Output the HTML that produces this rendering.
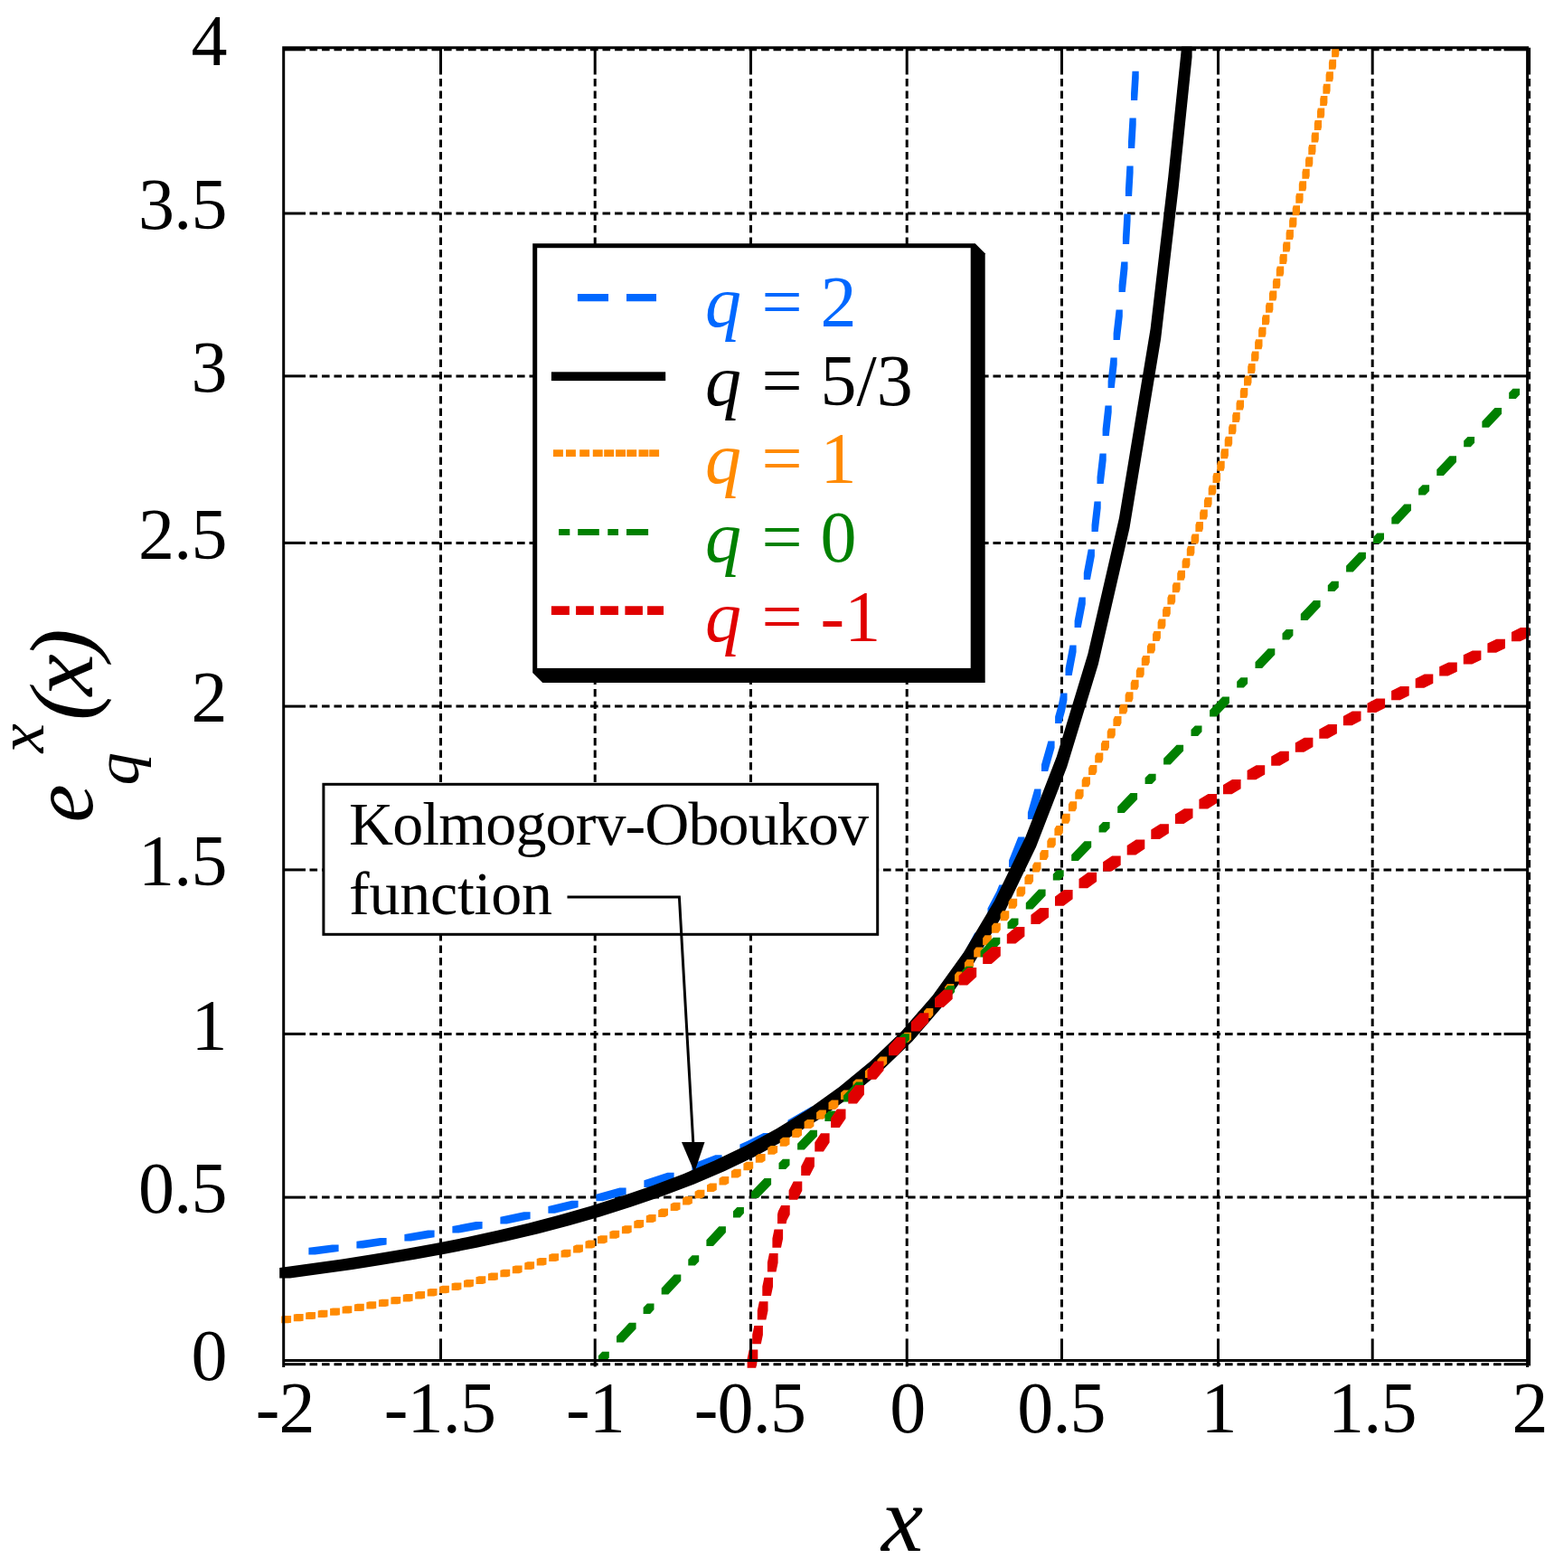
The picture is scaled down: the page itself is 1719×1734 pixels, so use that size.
<!DOCTYPE html>
<html lang="en">
<head>
<meta charset="utf-8">
<title>q-exponential functions</title>
<style>
html,body{margin:0;padding:0;background:#fff;}
body{width:1719px;height:1734px;overflow:hidden;}
svg{display:block;}
</style>
</head>
<body>
<svg width="1719" height="1734" viewBox="0 0 1719 1734">
<rect width="1719" height="1734" fill="#fff"/>
<g stroke="#000" stroke-width="3" fill="none" stroke-dasharray="8.6 4.9">
<line x1="487.5" y1="87" x2="487.5" y2="1477.4"/>
<line x1="658.2" y1="87" x2="658.2" y2="1477.4"/>
<line x1="830.5" y1="87" x2="830.5" y2="1477.4"/>
<line x1="1003.2" y1="87" x2="1003.2" y2="1477.4"/>
<line x1="1174.5" y1="87" x2="1174.5" y2="1477.4"/>
<line x1="1347.5" y1="87" x2="1347.5" y2="1477.4"/>
<line x1="1518.2" y1="87" x2="1518.2" y2="1477.4"/>
<line x1="1691.6" y1="87" x2="1691.6" y2="1477.4"/>
<line x1="342.5" y1="1508.7" x2="1660.6" y2="1508.7"/>
<line x1="342.5" y1="1324.1" x2="1660.6" y2="1324.1"/>
<line x1="342.5" y1="1143.4" x2="1660.6" y2="1143.4"/>
<line x1="342.5" y1="961.9" x2="1660.6" y2="961.9"/>
<line x1="342.5" y1="781.1" x2="1660.6" y2="781.1"/>
<line x1="342.5" y1="600.4" x2="1660.6" y2="600.4"/>
<line x1="342.5" y1="415.9" x2="1660.6" y2="415.9"/>
<line x1="342.5" y1="236" x2="1660.6" y2="236"/>
<line x1="342.5" y1="54.8" x2="1660.6" y2="54.8"/>
</g>
<clipPath id="cc"><rect x="300" y="40" width="1392.4" height="1480"/></clipPath>
<g clip-path="url(#cc)">
<path fill="#0068ff" d="M341.4 1387.4L348.6 1387.4L374.6 1384.1L374.6 1376.5L367.4 1376.5L341.4 1379.8ZM394.4 1380.4L401.6 1380.4L427.6 1376.6L427.6 1369L420.4 1369L394.4 1372.8ZM447.4 1372.5L454.6 1372.5L480.6 1368.2L480.6 1360.6L473.4 1360.6L447.4 1364.9ZM500.4 1363.5L507.6 1363.5L533.6 1358.7L533.6 1351.1L526.4 1351.1L500.4 1355.9ZM553.4 1353.4L560.6 1353.4L586.6 1347.9L586.6 1340.3L579.4 1340.3L553.4 1345.8ZM606.4 1341.7L613.6 1341.7L639.6 1335.3L639.6 1327.7L632.4 1327.7L606.4 1334.1ZM659.4 1328.3L666.6 1328.3L692.6 1321.1L692.6 1313.5L685.4 1313.5L659.4 1320.7ZM712.4 1312.9L719.6 1312.9L745.6 1304.4L745.6 1296.8L738.4 1296.8L712.4 1305.3ZM765.4 1294.9L772.6 1294.9L798.6 1284.8L798.6 1277.2L791.4 1277.2L765.4 1287.3ZM818.4 1273.1L825.6 1273.1L834.1 1269.4L851.6 1260.6L851.6 1253L844.4 1253L826.9 1261.8L818.4 1265.5ZM871.4 1246.4L878.6 1246.4L904.6 1231.4L904.6 1223.8L897.4 1223.8L871.4 1238.8ZM924.4 1213.2L931.6 1213.2L937.8 1209.1L957.6 1193.4L957.6 1185.8L950.4 1185.8L930.5 1201.5L924.4 1205.6ZM977.4 1170L984.6 1170L1006.9 1148.9L1010 1145.1L1010 1137.5L1002.8 1137.5L999.6 1141.3L977.4 1162.4ZM1025.8 1118.1L1033 1118.1L1041.1 1108.6L1052.3 1092.1L1052.3 1084.5L1045.1 1084.5L1033.9 1101L1025.8 1110.5ZM1063.4 1065.1L1070.6 1065.1L1075.3 1058.1L1085.4 1039.1L1085.4 1031.5L1078.2 1031.5L1068.2 1050.5L1063.4 1057.5ZM1092.5 1012.1L1099.7 1012.1L1109.6 993.3L1112.5 986.1L1112.5 978.5L1105.3 978.5L1102.4 985.7L1092.5 1004.5ZM1116 959.1L1123.2 959.1L1133.5 933.1L1133.5 925.5L1126.3 925.5L1116 951.5ZM1136.9 906.1L1144.1 906.1L1151.5 880.1L1151.5 872.5L1144.3 872.5L1136.9 898.5ZM1152 853.1L1159.2 853.1L1166.6 827.1L1166.6 819.5L1159.4 819.5L1152 845.5ZM1167.1 800.1L1174.3 800.1L1178.1 786.6L1180.5 774.1L1180.5 766.5L1173.3 766.5L1170.9 779L1167.1 792.5ZM1178.5 747.1L1185.7 747.1L1190.6 721.1L1190.6 713.5L1183.4 713.5L1178.5 739.5ZM1188.6 694.1L1195.8 694.1L1200.8 668.1L1200.8 660.5L1193.6 660.5L1188.6 686.5ZM1198.8 641.1L1206 641.1L1210.9 615.1L1210.9 607.5L1203.7 607.5L1198.8 633.5ZM1207.5 588.1L1214.7 588.1L1217.7 562.1L1217.7 554.5L1210.5 554.5L1207.5 580.5ZM1213.5 535.1L1220.7 535.1L1223.7 509.1L1223.7 501.5L1216.5 501.5L1213.5 527.5ZM1219.6 482.1L1226.8 482.1L1229.7 456.1L1229.7 448.5L1222.5 448.5L1219.6 474.5ZM1225.6 429.1L1232.8 429.1L1235.7 403.1L1235.7 395.5L1228.5 395.5L1225.6 421.5ZM1231.6 376.1L1238.8 376.1L1241.8 350.1L1241.8 342.5L1234.6 342.5L1231.6 368.5ZM1237.6 323.1L1244.8 323.1L1247.5 297.1L1247.5 289.5L1240.3 289.5L1237.6 315.5ZM1241.9 270.1L1249.1 270.1L1250.6 244.1L1250.6 236.5L1243.4 236.5L1241.9 262.5ZM1244.9 217.1L1252.1 217.1L1253.6 191.1L1253.6 183.5L1246.4 183.5L1244.9 209.5ZM1248 164.1L1255.2 164.1L1256.7 138.1L1256.7 130.5L1249.5 130.5L1248 156.5ZM1251 111.1L1258.2 111.1L1259.7 86.3L1259.7 78.7L1252.5 78.7L1251 103.5Z"/>
<path fill="#000" d="M309.2 1413.5L320.8 1413.5L389.8 1403.9L424.2 1398.6L458.8 1392.8L493.2 1386.5L527.4 1379.7L561.6 1372.3L595.7 1364.2L629.8 1355.3L664 1345.5L698.5 1334.6L732.9 1322.8L767.4 1309.7L801.8 1295L836.2 1278.4L870.8 1259.6L905.4 1238.2L939.9 1213.6L974.5 1185.1L1009 1151.8L1043.2 1112.2L1077.5 1064.8L1111.8 1007.4L1146 936.8L1180.2 848.3L1214.9 734.6L1249.5 583.9L1284.1 375L1303.8 206.6L1318.6 63.1L1318.6 51.6L1307.1 51.6L1292.3 195.1L1272.6 363.5L1238 572.4L1203.4 723.1L1168.8 836.8L1134.5 925.3L1100.2 995.9L1066 1053.3L1031.8 1100.7L997.5 1140.2L963 1173.6L928.4 1202.1L893.9 1226.7L859.3 1248.1L824.8 1266.9L790.3 1283.5L755.9 1298.2L721.4 1311.3L687 1323.1L652.5 1334L618.3 1343.8L584.2 1352.7L550.1 1360.8L515.9 1368.2L481.8 1375L447.2 1381.3L412.8 1387.1L378.2 1392.4L309.2 1402Z"/>
<path fill="#ff8a00" d="M311.3 1463.2L318.7 1463.2L322.1 1462.7L322.1 1455.1L314.7 1455.1L311.3 1455.6ZM324.8 1461.2L332.1 1461.2L335.6 1460.7L335.6 1453.1L328.2 1453.1L324.8 1453.6ZM338.2 1459.1L345.6 1459.1L349 1458.6L349 1451L341.6 1451L338.2 1451.5ZM351.7 1457L359.1 1457L362.4 1456.4L362.4 1448.8L355.1 1448.8L351.7 1449.4ZM365.1 1454.7L372.5 1454.7L375.9 1454.2L375.9 1446.6L368.5 1446.6L365.1 1447.1ZM378.6 1452.5L385.9 1452.5L389.3 1451.9L389.3 1444.3L381.9 1444.3L378.6 1444.9ZM392 1450L399.4 1450L402.8 1449.4L402.8 1441.8L395.4 1441.8L392 1442.4ZM405.4 1447.5L412.8 1447.5L416.2 1446.9L416.2 1439.3L408.9 1439.3L405.4 1439.9ZM418.9 1445L426.3 1445L429.7 1444.3L429.7 1436.7L422.3 1436.7L418.9 1437.4ZM432.4 1442.2L439.8 1442.2L443.2 1441.5L443.2 1433.9L435.8 1433.9L432.4 1434.6ZM445.8 1439.4L453.2 1439.4L456.6 1438.7L456.6 1431.1L449.2 1431.1L445.8 1431.8ZM459.2 1436.5L466.6 1436.5L470.1 1435.7L470.1 1428.1L462.7 1428.1L459.2 1428.9ZM472.7 1433.4L480.1 1433.4L483.5 1432.6L483.5 1425L476.1 1425L472.7 1425.8ZM486.1 1430.3L493.5 1430.3L496.9 1429.4L496.9 1421.8L489.6 1421.8L486.1 1422.7ZM499.6 1426.9L507 1426.9L510.4 1426L510.4 1418.4L503 1418.4L499.6 1419.3ZM513 1423.5L520.5 1423.5L523.9 1422.6L523.9 1415L516.4 1415L513 1415.9ZM526.5 1419.9L533.9 1419.9L537.3 1418.9L537.3 1411.3L529.9 1411.3L526.5 1412.3ZM539.9 1416.1L547.3 1416.1L550.8 1415.2L550.8 1407.6L543.3 1407.6L539.9 1408.5ZM553.4 1412.3L560.8 1412.3L564.2 1411.3L564.2 1403.7L556.8 1403.7L553.4 1404.7ZM566.8 1408.2L574.2 1408.2L577.6 1407.1L577.6 1399.5L570.2 1399.5L566.8 1400.6ZM580.3 1404L587.7 1404L591.1 1402.9L591.1 1395.3L583.7 1395.3L580.3 1396.4ZM593.7 1399.6L601.1 1399.6L604.5 1398.5L604.5 1390.9L597.1 1390.9L593.7 1392ZM607.2 1395.1L614.6 1395.1L618 1393.9L618 1386.3L610.6 1386.3L607.2 1387.5ZM620.6 1390.5L628 1390.5L631.4 1389.3L631.4 1381.7L624 1381.7L620.6 1382.9ZM634.1 1385.5L641.5 1385.5L644.9 1384.2L644.9 1376.6L637.5 1376.6L634.1 1377.9ZM647.5 1380.4L654.9 1380.4L658.3 1379.2L658.3 1371.6L650.9 1371.6L647.5 1372.8ZM661 1375.2L668.4 1375.2L671.8 1373.8L671.8 1366.2L664.4 1366.2L661 1367.6ZM674.4 1369.7L681.8 1369.7L685.2 1368.3L685.2 1360.7L677.8 1360.7L674.4 1362.1ZM687.9 1364.2L695.3 1364.2L698.7 1362.8L698.7 1355.2L691.3 1355.2L687.9 1356.6ZM701.3 1358.2L708.7 1358.2L712.1 1356.7L712.1 1349.1L704.7 1349.1L701.3 1350.6ZM714.8 1352.1L722.2 1352.1L725.6 1350.6L725.6 1343L718.2 1343L714.8 1344.5ZM728.2 1345.9L735.6 1345.9L739 1344.1L739 1336.5L731.6 1336.5L728.2 1338.3ZM741.7 1339.1L749.1 1339.1L752.5 1337.4L752.5 1329.8L745.1 1329.8L741.7 1331.5ZM755.1 1332.4L762.5 1332.4L765.9 1330.7L765.9 1323.1L758.5 1323.1L755.1 1324.8ZM768.6 1325.3L776 1325.3L779.4 1323.4L779.4 1315.8L772 1315.8L768.6 1317.7ZM782 1318L789.4 1318L792.8 1316.1L792.8 1308.5L785.4 1308.5L782 1310.4ZM795.5 1310.6L802.9 1310.6L806.3 1308.6L806.3 1301L798.9 1301L795.5 1303ZM808.9 1302.5L816.3 1302.5L819.7 1300.4L819.7 1292.8L812.3 1292.8L808.9 1294.9ZM822.4 1294.3L829.8 1294.3L833.2 1292.3L833.2 1284.7L825.8 1284.7L822.4 1286.7ZM835.8 1285.8L843.2 1285.8L846.6 1283.5L846.6 1275.9L839.2 1275.9L835.8 1278.2ZM849.3 1276.8L856.7 1276.8L860.1 1274.6L860.1 1267L852.7 1267L849.3 1269.2ZM862.7 1267.8L870.1 1267.8L873.5 1265.4L873.5 1257.8L866.1 1257.8L862.7 1260.2ZM876.2 1258L883.6 1258L887 1255.5L887 1247.9L879.6 1247.9L876.2 1250.4ZM889.6 1248.1L897 1248.1L900.4 1245.6L900.4 1238L893 1238L889.6 1240.5ZM903.1 1237.8L910.5 1237.8L913.9 1235L913.9 1227.4L906.5 1227.4L903.1 1230.2ZM916.5 1226.9L924 1226.9L927.4 1224.1L927.4 1216.5L919.9 1216.5L916.5 1219.3ZM930 1215.9L937.4 1215.9L940.8 1213.1L940.8 1205.5L933.4 1205.5L930 1208.3ZM943.5 1204L950.9 1204L954.3 1201L954.3 1193.4L946.9 1193.4L943.5 1196.4ZM956.9 1191.9L964.3 1191.9L967.7 1188.9L967.7 1181.3L960.3 1181.3L956.9 1184.3ZM970.4 1179.6L977.8 1179.6L981.2 1176.2L981.2 1168.6L973.8 1168.6L970.4 1172ZM983.8 1166.2L991.2 1166.2L994.6 1162.8L994.6 1155.2L987.2 1155.2L983.8 1158.6ZM997.3 1152.8L1004.7 1152.8L1008.1 1149.4L1008.1 1141.8L1000.7 1141.8L997.3 1145.2ZM1009.8 1139.3L1017.2 1139.3L1020.3 1135.9L1020.3 1128.3L1012.9 1128.3L1009.8 1131.7ZM1021.9 1125.9L1029.3 1125.9L1032.3 1122.5L1032.3 1114.9L1024.9 1114.9L1021.9 1118.3ZM1034 1112.4L1041.4 1112.4L1044.3 1109L1044.3 1101.4L1036.9 1101.4L1034 1104.8ZM1045.1 1099L1052.5 1099L1055.3 1095.6L1055.3 1088L1047.9 1088L1045.1 1091.4ZM1056 1085.5L1063.4 1085.5L1066.2 1082.1L1066.2 1074.5L1058.8 1074.5L1056 1077.9ZM1066.9 1072.1L1074.3 1072.1L1077.1 1068.7L1077.1 1061.1L1069.7 1061.1L1066.9 1064.5ZM1077.2 1058.6L1084.6 1058.6L1087.1 1055.2L1087.1 1047.6L1079.7 1047.6L1077.2 1051ZM1087.1 1045.2L1094.5 1045.2L1096.9 1041.8L1096.9 1034.2L1089.5 1034.2L1087.1 1037.6ZM1096.9 1031.7L1104.3 1031.7L1106.8 1028.3L1106.8 1020.7L1099.4 1020.7L1096.9 1024.1ZM1106.6 1018.3L1114 1018.3L1116.3 1014.9L1116.3 1007.3L1108.9 1007.3L1106.6 1010.7ZM1115.6 1004.8L1123 1004.8L1125.2 1001.4L1125.2 993.8L1117.8 993.8L1115.6 997.2ZM1124.5 991.4L1131.9 991.4L1134.2 988L1134.2 980.4L1126.8 980.4L1124.5 983.8ZM1133.4 977.9L1140.8 977.9L1143.1 974.5L1143.1 966.9L1135.7 966.9L1133.4 970.3ZM1142.1 964.5L1149.5 964.5L1151.5 961.1L1151.5 953.5L1144.1 953.5L1142.1 956.9ZM1150.2 951L1157.6 951L1159.7 947.6L1159.7 940L1152.3 940L1150.2 943.4ZM1158.3 937.6L1165.7 937.6L1167.8 934.2L1167.8 926.6L1160.4 926.6L1158.3 930ZM1166.4 924.1L1173.8 924.1L1175.9 920.7L1175.9 913.1L1168.5 913.1L1166.4 916.5ZM1174.5 910.7L1181.9 910.7L1183.7 907.3L1183.7 899.7L1176.3 899.7L1174.5 903.1ZM1181.9 897.2L1189.3 897.2L1191.2 893.8L1191.2 886.2L1183.8 886.2L1181.9 889.6ZM1189.3 883.8L1196.7 883.8L1198.6 880.4L1198.6 872.8L1191.2 872.8L1189.3 876.2ZM1196.7 870.3L1204.1 870.3L1206 866.9L1206 859.3L1198.6 859.3L1196.7 862.7ZM1204.1 856.9L1211.5 856.9L1213.4 853.5L1213.4 845.9L1206 845.9L1204.1 849.3ZM1211.2 843.4L1218.6 843.4L1220.3 840L1220.3 832.4L1212.9 832.4L1211.2 835.8ZM1217.9 830L1225.3 830L1227 826.6L1227 819L1219.6 819L1217.9 822.4ZM1224.7 816.5L1232.1 816.5L1233.8 813.1L1233.8 805.5L1226.4 805.5L1224.7 808.9ZM1231.4 803.1L1238.8 803.1L1240.5 799.7L1240.5 792.1L1233.1 792.1L1231.4 795.5ZM1238.1 789.6L1245.5 789.6L1247.2 786.2L1247.2 778.7L1239.8 778.7L1238.1 782.1ZM1244.6 776.2L1252 776.2L1253.5 772.8L1253.5 765.2L1246.1 765.2L1244.6 768.6ZM1250.7 762.8L1258.1 762.8L1259.6 759.4L1259.6 751.8L1252.2 751.8L1250.7 755.2ZM1256.8 749.3L1264.2 749.3L1265.7 745.9L1265.7 738.3L1258.3 738.3L1256.8 741.7ZM1262.8 735.9L1270.2 735.9L1271.8 732.5L1271.8 724.9L1264.4 724.9L1262.8 728.3ZM1268.9 722.4L1276.3 722.4L1277.9 719L1277.9 711.4L1270.5 711.4L1268.9 714.8ZM1275 709L1282.4 709L1283.9 705.6L1283.9 698L1276.5 698L1275 701.4ZM1280.6 695.5L1288 695.5L1289.4 692.1L1289.4 684.5L1282 684.5L1280.6 687.9ZM1286 682.1L1293.4 682.1L1294.8 678.7L1294.8 671.1L1287.4 671.1L1286 674.5ZM1291.4 668.6L1298.8 668.6L1300.2 665.2L1300.2 657.6L1292.8 657.6L1291.4 661ZM1296.8 655.2L1304.2 655.2L1305.6 651.8L1305.6 644.2L1298.2 644.2L1296.8 647.6ZM1302.2 641.7L1309.6 641.7L1311 638.3L1311 630.7L1303.6 630.7L1302.2 634.1ZM1307.6 628.3L1315 628.3L1316.4 624.9L1316.4 617.3L1309 617.3L1307.6 620.7ZM1312.8 614.8L1320.2 614.8L1321.4 611.4L1321.4 603.8L1314 603.8L1312.8 607.2ZM1317.6 601.4L1325 601.4L1326.2 598L1326.2 590.4L1318.8 590.4L1317.6 593.8ZM1322.4 587.9L1329.8 587.9L1331 584.5L1331 576.9L1323.6 576.9L1322.4 580.3ZM1327.1 574.5L1334.5 574.5L1335.8 571.1L1335.8 563.5L1328.4 563.5L1327.1 566.9ZM1331.9 561L1339.3 561L1340.6 557.6L1340.6 550L1333.2 550L1331.9 553.4ZM1336.7 547.6L1344.1 547.6L1345.3 544.2L1345.3 536.6L1337.9 536.6L1336.7 540ZM1341.5 534.1L1348.9 534.1L1350.1 530.7L1350.1 523.1L1342.7 523.1L1341.5 526.5ZM1346.2 520.7L1353.6 520.7L1354.7 517.3L1354.7 509.7L1347.3 509.7L1346.2 513.1ZM1350.4 507.2L1357.8 507.2L1358.9 503.8L1358.9 496.2L1351.5 496.2L1350.4 499.6ZM1354.7 493.8L1362.1 493.8L1363.2 490.4L1363.2 482.8L1355.8 482.8L1354.7 486.2ZM1359 480.3L1366.4 480.3L1367.5 476.9L1367.5 469.3L1360.1 469.3L1359 472.7ZM1363.2 466.9L1370.6 466.9L1371.7 463.5L1371.7 455.9L1364.3 455.9L1363.2 459.3ZM1367.5 453.4L1374.9 453.4L1376 450L1376 442.4L1368.6 442.4L1367.5 445.8ZM1371.8 440L1379.2 440L1380.3 436.6L1380.3 429L1372.9 429L1371.8 432.4ZM1376 426.5L1383.4 426.5L1384.5 423.1L1384.5 415.5L1377.1 415.5L1376 418.9ZM1380.2 413.1L1387.6 413.1L1388.6 409.7L1388.6 402.1L1381.2 402.1L1380.2 405.5ZM1384.1 399.6L1391.5 399.6L1392.5 396.2L1392.5 388.6L1385.1 388.6L1384.1 392ZM1388.1 386.2L1395.5 386.2L1396.5 382.8L1396.5 375.2L1389.1 375.2L1388.1 378.6ZM1392.1 372.7L1399.5 372.7L1400.5 369.3L1400.5 361.7L1393.1 361.7L1392.1 365.1ZM1396 359.3L1403.4 359.3L1404.4 355.9L1404.4 348.3L1397 348.3L1396 351.7ZM1400 345.8L1407.4 345.8L1408.4 342.4L1408.4 334.8L1401 334.8L1400 338.2ZM1403.9 332.4L1411.3 332.4L1412.3 329L1412.3 321.4L1404.9 321.4L1403.9 324.8ZM1407.9 318.9L1415.3 318.9L1416.3 315.5L1416.3 307.9L1408.9 307.9L1407.9 311.3ZM1411.8 305.5L1419.2 305.5L1420.2 302.1L1420.2 294.5L1412.8 294.5L1411.8 297.9ZM1415.4 292L1422.8 292L1423.7 288.6L1423.7 281L1416.3 281L1415.4 284.4ZM1419 278.5L1426.4 278.5L1427.3 275.1L1427.3 267.5L1419.9 267.5L1419 270.9ZM1422.6 265.1L1430 265.1L1430.9 261.7L1430.9 254.1L1423.5 254.1L1422.6 257.5ZM1426.1 251.6L1433.5 251.6L1434.4 248.2L1434.4 240.6L1427 240.6L1426.1 244ZM1429.7 238.2L1437.1 238.2L1438 234.8L1438 227.2L1430.6 227.2L1429.7 230.6ZM1433.3 224.7L1440.7 224.7L1441.6 221.3L1441.6 213.7L1434.2 213.7L1433.3 217.1ZM1436.8 211.3L1444.2 211.3L1445.1 207.9L1445.1 200.3L1437.7 200.3L1436.8 203.7ZM1440.4 197.8L1447.8 197.8L1448.7 194.4L1448.7 186.8L1441.3 186.8L1440.4 190.2ZM1444 184.4L1451.4 184.4L1452.3 181L1452.3 173.4L1444.9 173.4L1444 176.8ZM1447.3 170.9L1454.7 170.9L1455.5 167.5L1455.5 159.9L1448.1 159.9L1447.3 163.3ZM1450.6 157.5L1458 157.5L1458.8 154.1L1458.8 146.5L1451.4 146.5L1450.6 149.9ZM1453.8 144L1461.2 144L1462 140.6L1462 133L1454.6 133L1453.8 136.4ZM1457 130.6L1464.4 130.6L1465.2 127.2L1465.2 119.6L1457.8 119.6L1457 123ZM1460.2 117.1L1467.6 117.1L1468.4 113.7L1468.4 106.1L1461 106.1L1460.2 109.5ZM1463.4 103.7L1470.8 103.7L1471.6 100.3L1471.6 92.7L1464.2 92.7L1463.4 96.1ZM1466.6 90.2L1474 90.2L1474.9 86.8L1474.9 79.2L1467.5 79.2L1466.6 82.6ZM1469.9 76.8L1477.3 76.8L1478.1 73.4L1478.1 65.8L1470.7 65.8L1469.9 69.2ZM1473.1 63.3L1480.5 63.3L1481.3 59.9L1481.3 52.3L1473.9 52.3L1473.1 55.7Z"/>
<path fill="#008000" d="M661.9 1506.1L669.5 1506.1L673.8 1501.5L673.8 1494.7L666.2 1494.7L661.9 1499.3ZM682 1484.6L689.6 1484.6L703.6 1469.6L703.6 1462.8L696 1462.8L682 1477.8ZM711.6 1452.9L719.2 1452.9L723.5 1448.3L723.5 1441.5L715.9 1441.5L711.6 1446ZM731.7 1431.4L739.3 1431.4L753.3 1416.4L753.3 1409.5L745.7 1409.5L731.7 1424.5ZM761.3 1399.6L768.9 1399.6L773.2 1395L773.2 1388.2L765.6 1388.2L761.3 1392.8ZM781.4 1378.1L789 1378.1L802.9 1363.1L802.9 1356.3L795.3 1356.3L781.4 1371.3ZM811 1346.4L818.6 1346.4L822.9 1341.8L822.9 1335L815.3 1335L811 1339.5ZM831.1 1324.9L838.7 1324.9L853.1 1309.9L853.1 1303L845.5 1303L831.1 1318ZM861.5 1293.1L869.1 1293.1L873.5 1288.5L873.5 1281.7L865.9 1281.7L861.5 1286.3ZM882.1 1271.6L889.7 1271.6L904 1256.6L904 1249.8L896.4 1249.8L882.1 1264.8ZM912.4 1239.9L920 1239.9L924.4 1235.2L924.4 1228.4L916.8 1228.4L912.4 1233ZM933 1218.4L940.6 1218.4L954.9 1203.4L954.9 1196.5L947.3 1196.5L933 1211.5ZM963.3 1186.6L970.9 1186.6L975.3 1182L975.3 1175.2L967.7 1175.2L963.3 1179.8ZM983.9 1165.1L991.5 1165.1L1005.8 1150.1L1005.8 1143.3L998.2 1143.3L983.9 1158.3ZM1014 1133.4L1021.6 1133.4L1026 1128.8L1026 1121.9L1018.4 1121.9L1014 1126.5ZM1034.3 1111.9L1041.9 1111.9L1056.1 1096.9L1056.1 1090L1048.5 1090L1034.3 1105ZM1064.3 1080.1L1071.9 1080.1L1076.2 1075.5L1076.2 1068.7L1068.6 1068.7L1064.3 1073.3ZM1084.6 1058.6L1092.2 1058.6L1106.3 1043.6L1106.3 1036.8L1098.7 1036.8L1084.6 1051.8ZM1114.5 1026.9L1122.1 1026.9L1126.5 1022.2L1126.5 1015.5L1118.9 1015.5L1114.5 1020.1ZM1134.8 1005.4L1142.4 1005.4L1156.6 990.4L1156.6 983.6L1149 983.6L1134.8 998.6ZM1164.8 973.6L1172.4 973.6L1176.7 969L1176.7 962.2L1169.1 962.2L1164.8 966.8ZM1185.2 952.1L1192.8 952.1L1207.2 937.1L1207.2 930.3L1199.6 930.3L1185.2 945.3ZM1215.6 920.4L1223.2 920.4L1227.6 915.8L1227.6 909L1220 909L1215.6 913.6ZM1236.2 898.9L1243.8 898.9L1258.1 883.9L1258.1 877.1L1250.5 877.1L1236.2 892.1ZM1266.6 867.1L1274.2 867.1L1278.6 862.5L1278.6 855.7L1271 855.7L1266.6 860.3ZM1287.1 845.6L1294.7 845.6L1309.1 830.6L1309.1 823.8L1301.5 823.8L1287.1 838.8ZM1317.5 813.9L1325.1 813.9L1329.5 809.2L1329.5 802.5L1321.9 802.5L1317.5 807.1ZM1338.1 792.4L1345.7 792.4L1359.9 777.4L1359.9 770.6L1352.3 770.6L1338.1 785.6ZM1368.2 760.6L1375.8 760.6L1380.1 756L1380.1 749.2L1372.5 749.2L1368.2 753.8ZM1388.5 739.1L1396.1 739.1L1410.3 724.1L1410.3 717.3L1402.7 717.3L1388.5 732.3ZM1418.5 707.4L1426.1 707.4L1430.4 702.8L1430.4 696L1422.8 696L1418.5 700.6ZM1438.8 685.9L1446.4 685.9L1460.6 670.9L1460.6 664.1L1453 664.1L1438.8 679.1ZM1468.8 654.1L1476.4 654.1L1480.8 649.5L1480.8 642.7L1473.2 642.7L1468.8 647.3ZM1489.1 632.6L1496.7 632.6L1510.9 617.6L1510.9 610.8L1503.3 610.8L1489.1 625.8ZM1519.1 600.9L1526.7 600.9L1531 596.2L1531 589.5L1523.4 589.5L1519.1 594.1ZM1539.3 579.4L1546.9 579.4L1561 564.4L1561 557.6L1553.4 557.6L1539.3 572.6ZM1569.1 547.6L1576.7 547.6L1581.1 543L1581.1 536.2L1573.5 536.2L1569.1 540.8ZM1589.3 526.1L1596.9 526.1L1611 511.1L1611 504.3L1603.4 504.3L1589.3 519.3ZM1619.2 494.3L1626.8 494.3L1631.1 489.7L1631.1 482.9L1623.5 482.9L1619.2 487.5ZM1639.4 472.8L1647 472.8L1661.1 457.8L1661.1 451L1653.5 451L1639.4 466ZM1669.2 441.1L1676.8 441.1L1681.1 436.5L1681.1 429.7L1673.5 429.7L1669.2 434.3Z"/>
<path fill="#e00000" d="M826.6 1512.8L836.2 1512.8L838.3 1502.8L838.3 1492.4L828.7 1492.4L826.6 1502.4ZM832.2 1486.2L841.8 1486.2L843.9 1476.2L843.9 1465.9L834.3 1465.9L832.2 1475.9ZM837.8 1459.6L847.4 1459.6L849.5 1449.6L849.5 1439.3L839.9 1439.3L837.8 1449.3ZM843.3 1433L852.9 1433L855 1423L855 1412.7L845.4 1412.7L843.3 1422.7ZM848.9 1406.4L858.5 1406.4L860.6 1396.4L860.6 1386.1L851 1386.1L848.9 1396.1ZM854.4 1379.8L864 1379.8L866.1 1369.8L866.1 1359.5L856.5 1359.5L854.4 1369.5ZM860 1353.3L869.6 1353.3L870.3 1349.7L873.7 1343.3L873.7 1333L864.1 1333L860.8 1339.4L860 1343ZM872.6 1326.7L882.2 1326.7L887.3 1316.7L887.3 1306.4L877.7 1306.4L872.6 1316.4ZM886.2 1300.1L895.8 1300.1L900.9 1290.1L900.9 1279.8L891.3 1279.8L886.2 1289.8ZM901.3 1273.5L910.9 1273.5L917.6 1263.5L917.6 1253.2L908 1253.2L901.3 1263.2ZM919.1 1247L928.7 1247L935.5 1237L935.5 1226.6L925.9 1226.6L919.1 1236.6ZM938.3 1220.4L947.9 1220.4L955.9 1210.4L955.9 1200.1L946.3 1200.1L938.3 1210.1ZM959.5 1193.8L969.1 1193.8L977.5 1183.8L977.5 1173.5L967.9 1173.5L959.5 1183.5ZM983 1167.2L992.6 1167.2L1001.6 1157.2L1001.6 1146.9L992 1146.9L983 1156.9ZM1007.8 1140.6L1017.4 1140.6L1027.3 1130.6L1027.3 1120.3L1017.7 1120.3L1007.8 1130.3ZM1034.1 1114.1L1043.7 1114.1L1053.7 1104.8L1053.7 1094.5L1044.1 1094.5L1034.1 1103.8ZM1060.6 1089.4L1070.2 1089.4L1080.2 1080.3L1080.2 1070L1070.6 1070L1060.6 1079.1ZM1087.2 1065.9L1096.8 1065.9L1106.8 1057.3L1106.8 1047L1097.2 1047L1087.2 1055.6ZM1113.8 1043.6L1123.4 1043.6L1133.4 1035.4L1133.4 1025.1L1123.8 1025.1L1113.8 1033.3ZM1140.4 1022.1L1150 1022.1L1160 1014.4L1160 1004.1L1150.4 1004.1L1140.4 1011.8ZM1167 1001.7L1176.6 1001.7L1186.6 994.3L1186.6 984L1177 984L1167 991.4ZM1193.5 982.3L1203.1 982.3L1213.1 975.1L1213.1 964.8L1203.5 964.8L1193.5 972ZM1220.1 963.6L1229.7 963.6L1239.7 956.7L1239.7 946.4L1230.1 946.4L1220.1 953.3ZM1246.7 945.4L1256.3 945.4L1266.3 938.8L1266.3 928.5L1256.7 928.5L1246.7 935.1ZM1273.3 927.9L1282.9 927.9L1292.9 921.5L1292.9 911.2L1283.3 911.2L1273.3 917.6ZM1299.9 910.9L1309.5 910.9L1319.5 904.6L1319.5 894.3L1309.9 894.3L1299.9 900.6ZM1326.4 894.4L1336 894.4L1346 888.3L1346 878L1336.4 878L1326.4 884.1ZM1353 878.2L1362.6 878.2L1372.6 872.2L1372.6 861.9L1363 861.9L1353 867.9ZM1379.6 862.3L1389.2 862.3L1399.2 856.5L1399.2 846.2L1389.6 846.2L1379.6 852ZM1406.2 846.8L1415.8 846.8L1425.8 841L1425.8 830.7L1416.2 830.7L1406.2 836.5ZM1432.8 831.7L1442.4 831.7L1452.4 826L1452.4 815.7L1442.8 815.7L1432.8 821.4ZM1459.3 816.8L1468.9 816.8L1478.9 811.3L1478.9 801L1469.3 801L1459.3 806.5ZM1485.9 802.3L1495.5 802.3L1505.5 796.9L1505.5 786.6L1495.9 786.6L1485.9 792ZM1512.5 788L1522.1 788L1532.1 782.9L1532.1 772.6L1522.5 772.6L1512.5 777.7ZM1539.1 774.3L1548.7 774.3L1558.7 769.2L1558.7 758.9L1549.1 758.9L1539.1 764ZM1565.7 760.8L1575.3 760.8L1585.3 755.8L1585.3 745.5L1575.7 745.5L1565.7 750.5ZM1592.2 747.6L1601.8 747.6L1611.8 742.7L1611.8 732.4L1602.2 732.4L1592.2 737.3ZM1618.8 734.5L1628.4 734.5L1638.4 729.7L1638.4 719.4L1628.8 719.4L1618.8 724.2ZM1645.4 721.7L1655 721.7L1665 717L1665 706.7L1655.4 706.7L1645.4 711.4ZM1672 709.2L1681.6 709.2L1691.6 704.4L1691.6 694.1L1682 694.1L1672 698.9Z"/>
</g>
<g stroke="#000" stroke-width="3" fill="none">
<line x1="487.5" y1="52.7" x2="487.5" y2="82.5"/>
<line x1="487.5" y1="1480.4" x2="487.5" y2="1504.4"/>
<line x1="658.2" y1="52.7" x2="658.2" y2="82.5"/>
<line x1="658.2" y1="1480.4" x2="658.2" y2="1511.4"/>
<line x1="830.5" y1="52.7" x2="830.5" y2="82.5"/>
<line x1="830.5" y1="1480.4" x2="830.5" y2="1504.4"/>
<line x1="1003.2" y1="52.7" x2="1003.2" y2="82.5"/>
<line x1="1003.2" y1="1480.4" x2="1003.2" y2="1511.4"/>
<line x1="1174.5" y1="52.7" x2="1174.5" y2="82.5"/>
<line x1="1174.5" y1="1480.4" x2="1174.5" y2="1504.4"/>
<line x1="1347.5" y1="52.7" x2="1347.5" y2="82.5"/>
<line x1="1347.5" y1="1480.4" x2="1347.5" y2="1511.4"/>
<line x1="1518.2" y1="52.7" x2="1518.2" y2="82.5"/>
<line x1="1518.2" y1="1480.4" x2="1518.2" y2="1504.4"/>
<line x1="313.7" y1="1508.7" x2="338" y2="1508.7"/>
<line x1="1663.6" y1="1508.7" x2="1691.1" y2="1508.7"/>
<line x1="313.7" y1="1324.1" x2="338" y2="1324.1"/>
<line x1="1663.6" y1="1324.1" x2="1691.1" y2="1324.1"/>
<line x1="313.7" y1="1143.4" x2="338" y2="1143.4"/>
<line x1="1663.6" y1="1143.4" x2="1691.1" y2="1143.4"/>
<line x1="313.7" y1="961.9" x2="338" y2="961.9"/>
<line x1="1663.6" y1="961.9" x2="1691.1" y2="961.9"/>
<line x1="313.7" y1="781.1" x2="338" y2="781.1"/>
<line x1="1663.6" y1="781.1" x2="1691.1" y2="781.1"/>
<line x1="313.7" y1="600.4" x2="338" y2="600.4"/>
<line x1="1663.6" y1="600.4" x2="1691.1" y2="600.4"/>
<line x1="313.7" y1="415.9" x2="338" y2="415.9"/>
<line x1="1663.6" y1="415.9" x2="1691.1" y2="415.9"/>
<line x1="313.7" y1="236" x2="338" y2="236"/>
<line x1="1663.6" y1="236" x2="1691.1" y2="236"/>
<line x1="313.7" y1="54.8" x2="338" y2="54.8"/>
<line x1="1663.6" y1="54.8" x2="1691.1" y2="54.8"/>
<line x1="1691.6" y1="52.7" x2="1691.6" y2="82.5"/>
<line x1="1691.6" y1="1480.4" x2="1691.6" y2="1510.4"/>
</g>
<path d="M313.7 51.2V1511.9M1689.6 51.2V1511.9M312.2 52.7H1691.1M312.2 1504.4H1691.1" stroke="#000" stroke-width="3" fill="none"/>
<path fill="#000" d="M589.2 269.2H1078.7L1089.7 280.2V754.9H600.2L589.2 743.9Z"/>
<rect x="594.2" y="274.2" width="479.5" height="464.7" fill="#fff"/>
<path fill="#0068ff" d="M638.9 325h34.1v8.2h-34.1zM693 325h33v8.2h-33z"/>
<rect x="609.9" y="411.3" width="126.3" height="9.8"/>
<path fill="#ff8a00" d="M612 497.3h10.9v7.7h-10.9zM626 497.3h10.9v7.7h-10.9zM641.2 497.3h10.9v7.7h-10.9zM655.8 497.3h10.9v7.7h-10.9zM668.2 497.3h10.9v7.7h-10.9zM681.1 497.3h10.9v7.7h-10.9zM693.3 497.3h10.9v7.7h-10.9zM706.5 497.3h10.9v7.7h-10.9zM718.2 497.3h10.9v7.7h-10.9z"/>
<path fill="#008000" d="M618.1 585h12.2v7h-12.2zM639.2 585h23.6v7h-23.6zM672.3 585h11.7v7h-11.7zM693 585h24.1v7h-24.1z"/>
<path fill="#e00000" d="M609.9 670.2h20v9.8h-20zM637.1 670.2h19.7v9.8h-19.7zM664.2 670.2h19.8v9.8h-19.8zM691.4 670.2h19.5v9.8h-19.5zM716.1 670.2h17.9v9.8h-17.9z"/>
<g font-family="'Liberation Serif', serif" font-size="80">
<text x="779.9" y="361.3" fill="#0068ff" font-style="italic">q</text>
<text x="842.5" y="361.3" fill="#0068ff">= 2</text>
<text x="779.9" y="448.3" fill="#000" font-style="italic">q</text>
<text x="842.5" y="448.3" fill="#000">= 5/3</text>
<text x="779.9" y="534.3" fill="#ff8a00" font-style="italic">q</text>
<text x="842.5" y="534.3" fill="#ff8a00">= 1</text>
<text x="779.9" y="621.3" fill="#008000" font-style="italic">q</text>
<text x="842.5" y="621.3" fill="#008000">= 0</text>
<text x="779.9" y="709" fill="#e00000" font-style="italic">q</text>
<text x="842.5" y="709" fill="#e00000">= -1</text>
</g>
<rect x="357.9" y="867.3" width="612.8" height="166" fill="#fff" stroke="#000" stroke-width="3"/>
<g font-family="'Liberation Serif', serif" font-size="68" fill="#000">
<text x="386" y="933.9" textLength="575" lengthAdjust="spacing">Kolmogorv-Oboukov</text>
<text x="386" y="1010.9" textLength="225" lengthAdjust="spacing">function</text>
</g>
<path d="M627.5 992H751.4L766.8 1264" stroke="#000" stroke-width="3" fill="none" stroke-linejoin="miter"/>
<path d="M754 1263H779.5L768.2 1296.5Z" fill="#000"/>
<g font-family="'Liberation Serif', serif" font-size="80" fill="#000" letter-spacing="-0.8">
<g text-anchor="end">
<text x="250.6" y="1526">0</text>
<text x="250.6" y="1341.4">0.5</text>
<text x="250.6" y="1160.7">1</text>
<text x="250.6" y="979.2">1.5</text>
<text x="250.6" y="798.4">2</text>
<text x="250.6" y="617.7">2.5</text>
<text x="250.6" y="433.2">3</text>
<text x="250.6" y="253.3">3.5</text>
<text x="250.6" y="72.1">4</text>
</g><g text-anchor="middle">
<text x="315.2" y="1584">-2</text>
<text x="486.5" y="1584">-1.5</text>
<text x="658.5" y="1584">-1</text>
<text x="829.5" y="1584">-0.5</text>
<text x="1003.8" y="1584">0</text>
<text x="1174" y="1584">0.5</text>
<text x="1348" y="1584">1</text>
<text x="1517.8" y="1584">1.5</text>
<text x="1692.1" y="1584">2</text>
</g></g>
<g font-family="'Liberation Serif', serif" font-style="italic" fill="#000">
<text x="975" y="1715" font-size="104">x</text>
<text transform="translate(101.5 909.5) rotate(-90) scale(0.915 0.93)" font-size="104">e</text>
<text transform="translate(152.5 868.5) rotate(-90) scale(1.0 0.93)" font-size="73">q</text>
<text transform="translate(48 832.5) rotate(-90) scale(1.0 1.0)" font-size="73">x</text>
<text transform="translate(101.5 797) rotate(-90) scale(1.0 0.952)" font-size="104">(</text>
<text transform="translate(101.5 769.6) rotate(-90) scale(1.0 1.0)" font-size="104">x</text>
<text transform="translate(101.5 730) rotate(-90) scale(1.0 0.952)" font-size="104">)</text>
</g>
</svg>
</body>
</html>
